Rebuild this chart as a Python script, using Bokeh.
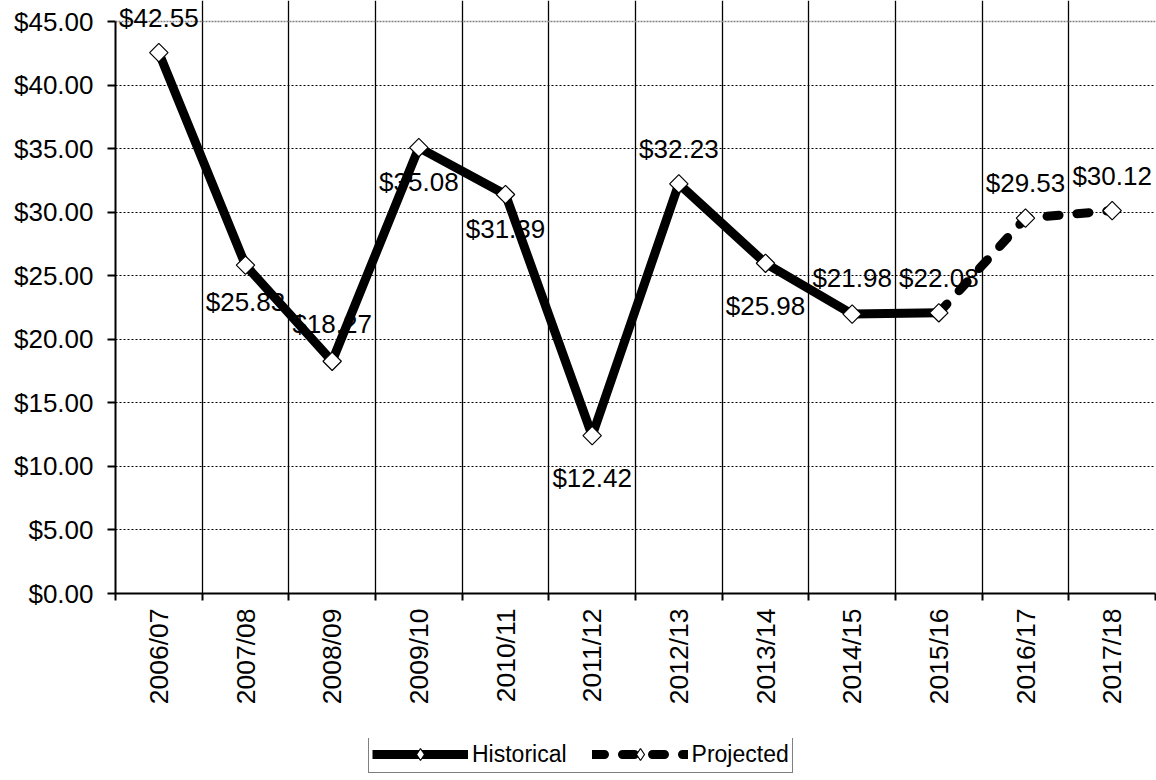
import math
from bokeh.plotting import figure
from bokeh.layouts import column
from bokeh.models import (ColumnDataSource, Range1d, FixedTicker, NumeralTickFormatter,
                          LabelSet, Legend, LegendItem, Grid)
from bokeh.core.properties import value
from bokeh.embed import file_html
from bokeh.resources import INLINE

# ---- data ----
years = ["2006/07", "2007/08", "2008/09", "2009/10", "2010/11", "2011/12",
         "2012/13", "2013/14", "2014/15", "2015/16", "2016/17", "2017/18"]
prices = [42.55, 25.83, 18.27, 35.08, 31.39, 12.42, 32.23, 25.98, 21.98, 22.08, 29.53, 30.12]
historical_count = 10          # 2006/07 .. 2015/16 are historical
projected_start = 9            # projection continues from 2015/16
y_ticks = [0, 5, 10, 15, 20, 25, 30, 35, 40, 45]
series_names = ["Historical", "Projected"]

# label placement (screen px, positive = up)
label_offsets = [35, -37, 37, -34, -35, -42, 35, -43, 36, 35, 35, 35]

FONT = "Liberation Sans"

n = len(years)
y_top = y_ticks[-1]
xc = [i + 0.5 for i in range(n)]
labels = ["$%.2f" % v for v in prices]

hist = ColumnDataSource(dict(x=xc[:historical_count], y=prices[:historical_count]))
proj = ColumnDataSource(dict(x=xc[projected_start:], y=prices[projected_start:]))
proj_m = ColumnDataSource(dict(x=xc[historical_count:], y=prices[historical_count:]))
lab = ColumnDataSource(dict(x=xc, y=prices, t=labels, off=label_offsets))

# frame reaches the top of the page so that the top data label is not clipped;
# value 45 sits 21px below the frame top
frame_h = 593
y_end = y_top * frame_h / (frame_h - 21)

MAIN_H = 738
p = figure(width=1156, height=MAIN_H, output_backend="svg", toolbar_location=None,
           x_range=Range1d(0, n), y_range=Range1d(0, y_end),
           min_border_left=115, min_border_right=1, min_border_top=0,
           min_border_bottom=MAIN_H - frame_h)
p.background_fill_color = "white"
p.border_fill_color = "white"
p.outline_line_color = None

# axes
xa = p.xaxis[0]
xa.ticker = FixedTicker(ticks=xc, minor_ticks=list(range(n + 1)))
xa.major_label_overrides = {c: y for c, y in zip(xc, years)}
xa.major_label_orientation = math.pi / 2
xa.major_tick_line_color = None
xa.major_tick_out = 7
xa.major_tick_in = 0
xa.minor_tick_out = 7
xa.minor_tick_in = 0
xa.minor_tick_line_color = "black"
xa.minor_tick_line_width = 2
xa.major_label_standoff = 8
xa.axis_line_width = 2
xa.axis_line_color = "black"
xa.major_label_text_font = FONT
xa.major_label_text_font_size = "26.5px"
xa.major_label_text_color = "black"

ya = p.yaxis[0]
ya.ticker = FixedTicker(ticks=y_ticks)
ya.bounds = (0, y_top)
ya.formatter = NumeralTickFormatter(format="$0.00")
ya.major_tick_out = 8
ya.major_tick_in = 0
ya.major_tick_line_width = 2
ya.major_tick_line_color = "black"
ya.minor_tick_line_color = None
ya.axis_line_width = 2
ya.axis_line_color = "black"
ya.major_label_standoff = 14
ya.major_label_text_font = FONT
ya.major_label_text_font_size = "26px"
ya.major_label_text_color = "black"

# grids
p.xgrid.ticker = FixedTicker(ticks=list(range(1, n)))
p.xgrid.bounds = (0, y_top)
p.xgrid.grid_line_color = "black"
p.xgrid.grid_line_width = 1.3
p.ygrid.ticker = FixedTicker(ticks=y_ticks[1:-1])
p.ygrid.grid_line_color = "black"
p.ygrid.grid_line_dash = "2 2"
p.ygrid.grid_line_width = 1
top_grid = Grid(dimension=1, ticker=FixedTicker(ticks=[y_top]), grid_line_color="#808080",
                grid_line_dash="2 1", grid_line_width=1.5)
right_grid = Grid(dimension=0, ticker=FixedTicker(ticks=[n]), bounds=(0, y_top),
                  grid_line_color="#808080", grid_line_width=4)
p.add_layout(top_grid)
p.add_layout(right_grid)

# data labels (behind lines)
ls = LabelSet(x="x", y="y", text="t", y_offset="off", source=lab,
              text_align="center", text_baseline="middle",
              text_font=value(FONT), text_font_size=value("26px"), text_color="black",
              level="underlay")
p.add_layout(ls)

LINE = dict(line_color="black", line_width=9, line_join="round")
DASH = dict(line_dash="12 18", line_cap="round")
MARK = dict(marker="square", angle=math.pi / 4, size=13,
            fill_color="white", line_color="black", line_width=1.2)
LMARK = dict(marker="diamond", fill_color="white", line_color="black", line_width=1.2)

p.line("x", "y", source=proj, **LINE, **DASH)
p.line("x", "y", source=hist, **LINE)
p.scatter("x", "y", source=hist, **MARK)
p.scatter("x", "y", source=proj_m, **MARK)

# ---- legend strip below the chart (same series, ranges keep them off-view) ----
LEG_H = 780 - MAIN_H
q = figure(width=1156, height=LEG_H, output_backend="svg", toolbar_location=None,
           x_range=Range1d(-20, -19), y_range=Range1d(-20, -19),
           x_axis_location=None, y_axis_location=None,
           min_border=0, min_border_left=115, min_border_right=1,
           min_border_top=0, min_border_bottom=0)
q.grid.visible = False
q.outline_line_color = None
q.background_fill_color = "white"
q.border_fill_color = "white"
lh = q.line("x", "y", source=hist, **LINE)
mh = q.scatter("x", "y", source=hist, **LMARK)
lp = q.line("x", "y", source=proj, **LINE, **DASH)
mp = q.scatter("x", "y", source=proj_m, **LMARK)

legend = Legend(items=[LegendItem(label=series_names[0], renderers=[lh, mh]),
                       LegendItem(label=series_names[1], renderers=[lp, mp])],
                orientation="horizontal", location=(253, 7),
                label_text_font=FONT, label_text_font_size="23px", label_text_color="black",
                glyph_width=96, glyph_height=30, label_standoff=4, spacing=25, padding=3,
                border_line_color="black", border_line_width=1.2,
                background_fill_color="white", background_fill_alpha=1, margin=0)
q.add_layout(legend, "center")

layout = column(p, q, spacing=0)
open("out.html", "w").write(file_html(layout, INLINE))
